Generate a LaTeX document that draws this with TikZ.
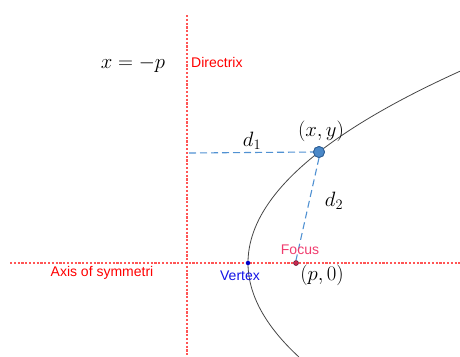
\documentclass[tikz,border=0pt]{standalone}
\usepackage{fontspec}
\setsansfont{Liberation Sans}
\definecolor{guidered}{RGB}{255,85,85}
\definecolor{distblue}{RGB}{80,145,210}
\definecolor{ptfill}{RGB}{74,136,200}
\definecolor{ptdraw}{RGB}{47,95,149}
\definecolor{focfill}{RGB}{200,40,80}
\definecolor{focdraw}{RGB}{90,20,40}
\definecolor{vtxblue}{RGB}{0,0,200}
\definecolor{vlblblue}{RGB}{20,20,230}
\definecolor{foclbl}{RGB}{240,60,110}
\definecolor{curvegray}{RGB}{70,70,70}
\begin{document}
\begin{tikzpicture}[x=1pt,y=-1pt,
  guide/.style={color=guidered, line width=1.1pt, dash pattern=on 2.2pt off 1.6pt},
  dist/.style={color=distblue, line width=1.1pt, dash pattern=on 7pt off 4pt},
  curve/.style={color=curvegray, line width=0.8pt},
  lbl/.style={font=\sffamily\fontsize{14}{16}\selectfont, inner sep=0pt},
  mth/.style={font=\fontsize{20.5}{22}\selectfont, inner sep=0pt},
  bigpt/.style={circle, fill=ptfill, draw=ptdraw, line width=0.8pt, minimum size=11pt, inner sep=0pt}]
\useasboundingbox (0,0) rectangle (460,356);
\begin{scope}
\clip (0,0) rectangle (460,356);
\coordinate (dTop) at (187,15);
\coordinate (dBot) at (187,356);
\coordinate (aL) at (10,263);
\coordinate (aR) at (460,263);
\draw[guide] (dTop) -- (dBot);
\draw[guide] (aL) -- (aR);
\draw[curve] plot[domain=-19.3:9.4, samples=120, variable=\s] ({248+0.5764*\s*\s},{263+10*\s});
\coordinate (dFoot) at (189,153);
\node[bigpt] (P) at (319,152) {};
\node[circle, fill=focfill, draw=focdraw, line width=0.5pt, minimum size=5pt, inner sep=0pt] (F) at (296,263) {};
\node[circle, fill=vtxblue, minimum size=4.5pt, inner sep=0pt] (V) at (248,263) {};
\draw[dist] (dFoot) -- (P.west);
\draw[dist] (P.south) -- (F.north);
\node[bigpt] at (P) {};
\end{scope}
\node[mth] (eq) at (133,64) {$x=-p$};
\node[lbl, text=red, anchor=west] (dirlbl) at (191,62) {Directrix};
\node[lbl, text=red] (axlbl) at (102,273) {Axis of symmetri};
\node[lbl, text=vlblblue] (vlbl) at (240,276) {Vertex};
\node[lbl, text=foclbl] (flbl) at (300,250) {Focus};
\node[mth] (pzero) at (322,275) {$(p,0)$};
\node[mth] (xy) at (321,131) {$(x,y)$};
\node[mth] (d1) at (252,141) {$d_1$};
\node[mth] (d2) at (334,201) {$d_2$};
\end{tikzpicture}
\end{document}
